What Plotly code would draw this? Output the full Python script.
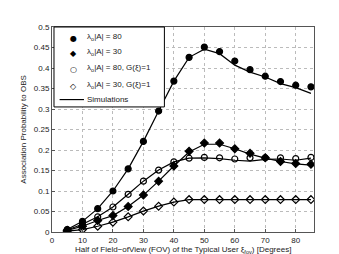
import plotly.graph_objects as go

x = [5, 10, 15, 20, 25, 30, 35, 40, 45, 50, 55, 60, 65, 70, 75, 80, 85]

# Analytical points
a80 = [0.006, 0.026, 0.057, 0.100, 0.154, 0.221, 0.295, 0.368, 0.426, 0.451, 0.440, 0.417, 0.396, 0.380, 0.367, 0.358, 0.354]
a30 = [0.004, 0.014, 0.028, 0.040, 0.062, 0.090, 0.124, 0.161, 0.197, 0.217, 0.217, 0.203, 0.192, 0.181, 0.172, 0.167, 0.165]
a80g = [0.005, 0.019, 0.037, 0.061, 0.092, 0.124, 0.151, 0.171, 0.180, 0.182, 0.181, 0.178, 0.181, 0.181, 0.181, 0.179, 0.182]
a30g = [0.002, 0.006, 0.014, 0.024, 0.037, 0.051, 0.063, 0.073, 0.079, 0.079, 0.079, 0.079, 0.079, 0.079, 0.079, 0.079, 0.079]

# Simulation curves
s80 = [0.006, 0.026, 0.057, 0.100, 0.154, 0.221, 0.295, 0.368, 0.426, 0.446, 0.435, 0.407, 0.390, 0.378, 0.362, 0.352, 0.338]
s30 = [0.004, 0.014, 0.028, 0.040, 0.062, 0.090, 0.124, 0.161, 0.195, 0.214, 0.214, 0.203, 0.190, 0.180, 0.172, 0.166, 0.163]
s80g = [0.005, 0.019, 0.037, 0.061, 0.092, 0.124, 0.151, 0.171, 0.180, 0.181, 0.179, 0.175, 0.173, 0.177, 0.178, 0.175, 0.180]
s30g = [0.002, 0.006, 0.014, 0.024, 0.037, 0.051, 0.063, 0.073, 0.079, 0.079, 0.079, 0.079, 0.079, 0.079, 0.079, 0.079, 0.079]

x_ticks = [0, 10, 20, 30, 40, 50, 60, 70, 80]
y_ticks = [0, 0.05, 0.1, 0.15, 0.2, 0.25, 0.3, 0.35, 0.4, 0.45, 0.5]
y_ticktext = ["0", "0.05", "0.1", "0.15", "0.2", "0.25", "0.3", "0.35", "0.4", "0.45", "0.5"]

names = ["λ<sub>o</sub>|A| = 80", "λ<sub>o</sub>|A| = 30",
         "λ<sub>o</sub>|A| = 80, G(ξ)=1", "λ<sub>o</sub>|A| = 30, G(ξ)=1"]
symbols = ["circle", "diamond", "circle-open", "diamond-open"]
glyphs = ["●", "◆", "○", "◇"]
pts = [a80, a30, a80g, a30g]
sims = [s80, s30, s80g, s30g]

FONT = "Liberation Sans, Arial, sans-serif"
fig = go.Figure()
for i, s in enumerate(sims):
    fig.add_trace(go.Scatter(x=x, y=s, mode="lines", line=dict(color="black", width=1.2),
                             name="Simulations", showlegend=False))
for n, sym, p in zip(names, symbols, pts):
    fig.add_trace(go.Scatter(x=x, y=p, mode="markers", name=n, showlegend=False,
                             marker=dict(symbol=sym, size=6, color="black",
                                         line=dict(color="black", width=1.2))))

ax = dict(showline=True, linecolor="#555", linewidth=1, mirror=True, ticks="inside",
          ticklen=3, tickcolor="#555", showgrid=True, gridcolor="#bbb", griddash="dot",
          gridwidth=0.8, zeroline=False, tickfont=dict(size=8, color="#222"))

# Legend box (drawn by hand so its rows are as compact as in the reference)
shapes = [
    dict(type="rect", xref="paper", yref="paper", x0=0.0076, x1=0.429, y0=0.61, y1=1.0,
         fillcolor="white", line=dict(color="black", width=1), layer="above"),
    dict(type="line", xref="paper", yref="paper", x0=0.029, x1=0.122, y0=0.646, y1=0.646,
         line=dict(color="black", width=1.2), layer="above"),
]
row_y = [0.946, 0.873, 0.793, 0.712]
annotations = []
for g, n, ry in zip(glyphs, names, row_y):
    annotations.append(dict(xref="paper", yref="paper", x=0.0827, y=ry, text=g, showarrow=False,
                            xanchor="center", yanchor="middle",
                            font=dict(family="DejaVu Sans", size=8, color="black")))
    annotations.append(dict(xref="paper", yref="paper", x=0.1257, y=ry + 0.005, text=n, showarrow=False,
                            xanchor="left", yanchor="middle", font=dict(family=FONT, size=8, color="#222")))
annotations.append(dict(xref="paper", yref="paper", x=0.1257, y=0.646, text="Simulations", showarrow=False,
                        xanchor="left", yanchor="middle", font=dict(family=FONT, size=8, color="#222")))
annotations.append(dict(xref="paper", yref="paper", x=0.5, y=-0.086,
                        text="Half of Field−ofView (FOV) of the Typical User ξ<sub>fov</sub>) [Degrees]",
                        showarrow=False, xanchor="center", yanchor="middle",
                        font=dict(family=FONT, size=8, color="#222")))
annotations.append(dict(xref="paper", yref="paper", x=-0.11, y=0.5, text="Association Probability to OBS",
                        showarrow=False, textangle=-90, xanchor="center", yanchor="middle",
                        font=dict(family=FONT, size=8, color="#222")))

fig.update_layout(
    width=339, height=254, margin=dict(l=44, r=32.5, t=19, b=30),
    paper_bgcolor="white", plot_bgcolor="white",
    font=dict(family=FONT, size=8, color="#222"),
    xaxis=dict(range=[0, 86], tickvals=x_ticks, **ax),
    yaxis=dict(range=[0, 0.5], tickvals=y_ticks, ticktext=y_ticktext, **ax),
    shapes=shapes, annotations=annotations, showlegend=False,
)
fig.write_html("out.html")
